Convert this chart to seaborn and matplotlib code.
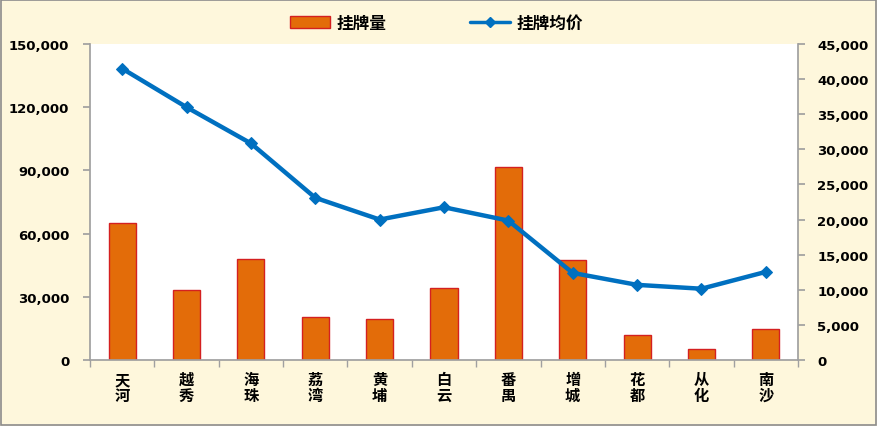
import matplotlib
matplotlib.use("Agg")
import matplotlib.pyplot as plt
import seaborn as sns
import pandas as pd
import numpy as np
from matplotlib.ticker import FuncFormatter, FixedLocator

districts = ["天\n河", "越\n秀", "海\n珠", "荔\n湾", "黄\n埔", "白\n云", "番\n禺", "增\n城", "花\n都", "从\n化", "南\n沙"]
listings = [65000, 33200, 47800, 20500, 19300, 34000, 91400, 47300, 11700, 5400, 14900]
avg_price = [41500, 36000, 30850, 23100, 20000, 21750, 19850, 12400, 10700, 10150, 12550]

sns.set_theme(style="white")
plt.rcParams['font.family'] = ['Noto Sans CJK SC', 'DejaVu Sans']
plt.rcParams['text.color'] = 'black'
plt.rcParams['xtick.color'] = 'black'
plt.rcParams['ytick.color'] = 'black'

df = pd.DataFrame({"district": districts, "listings": listings, "price": avg_price})

bg = "#FEF7DC"
fig = plt.figure(figsize=(8.78, 4.27), dpi=100, facecolor=bg)
ax = fig.add_axes([90/878, (427-361)/427, (798-90)/878, (361-45)/427])
ax.set_facecolor("white")

sns.barplot(data=df, x="district", y="listings", ax=ax, color="#E36C09",
            edgecolor="#D42020", linewidth=1.0, width=0.42, saturation=1)
ax.set_ylim(0, 150000)
ax.set_xlim(-0.5, len(districts) - 0.5)
ax.yaxis.set_major_locator(FixedLocator(np.arange(0, 150001, 30000)))
ax.yaxis.set_major_formatter(FuncFormatter(lambda v, p: f"{int(v):,}"))
ax.set_xlabel("")
ax.set_ylabel("")

ax2 = ax.twinx()
sns.lineplot(x=np.arange(len(districts)), y=df["price"], ax=ax2, color="#0070C0",
             linewidth=3.2, marker="D", markersize=6, markeredgecolor="#0070C0",
             label="挂牌均价", legend=False)
ax2.set_ylim(0, 45000)
ax2.set_xlim(-0.5, len(districts) - 0.5)
ax2.yaxis.set_major_locator(FixedLocator(np.arange(0, 45001, 5000)))
ax2.yaxis.set_major_formatter(FuncFormatter(lambda v, p: f"{int(v):,}"))
ax2.set_ylabel("")

for a in (ax, ax2):
    for s in a.spines.values():
        s.set_visible(False)
ax.spines["left"].set_visible(True)
ax.spines["left"].set_color("#A0A0A0")
ax.spines["bottom"].set_visible(True)
ax.spines["bottom"].set_color("#A0A0A0")
ax2.spines["right"].set_visible(True)
ax2.spines["right"].set_color("#A0A0A0")

ax.tick_params(axis="y", which="both", left=True, length=5, color="#A0A0A0",
               labelcolor="black", labelsize=9.5, pad=10)
ax2.tick_params(axis="y", right=True, length=5, color="#A0A0A0", labelcolor="black",
                labelsize=9.5, pad=9)
for lbl in ax.get_yticklabels() + ax2.get_yticklabels():
    lbl.set_fontweight("bold")
    lbl.set_family(["DejaVu Sans"])

# x tick labels at centres, tick marks at boundaries
ax.set_xticks(np.arange(len(districts)))
ax.set_xticklabels(districts, fontsize=11, fontweight="bold", linespacing=1.0, color="black")
ax.tick_params(axis="x", length=0, pad=8)
ax.set_xticks(np.arange(-0.5, len(districts), 1.0), minor=True)
ax.tick_params(axis="x", which="minor", bottom=True, length=5, color="#A0A0A0")

# legend
from matplotlib.patches import Patch
from matplotlib.lines import Line2D
handles = [Patch(facecolor="#E36C09", edgecolor="#D42020", label="挂牌量"),
           Line2D([0], [0], color="#0070C0", lw=2.5, marker="D", markersize=5, label="挂牌均价")]
leg = fig.legend(handles=handles, loc="upper center", bbox_to_anchor=(0.497, 1.0), ncol=2,
                 frameon=False, prop={"size": 12, "weight": "bold", "family": ["Noto Sans CJK SC"]},
                 columnspacing=5.0, handlelength=2.4, handletextpad=0.4)

# outer border
fig.patches.append(plt.Rectangle((0.001, 0.002), 0.997, 0.995, transform=fig.transFigure,
                                 fill=False, edgecolor="#8C8C8C", linewidth=1.2))

fig.savefig("out.png", dpi=100, facecolor=bg)
